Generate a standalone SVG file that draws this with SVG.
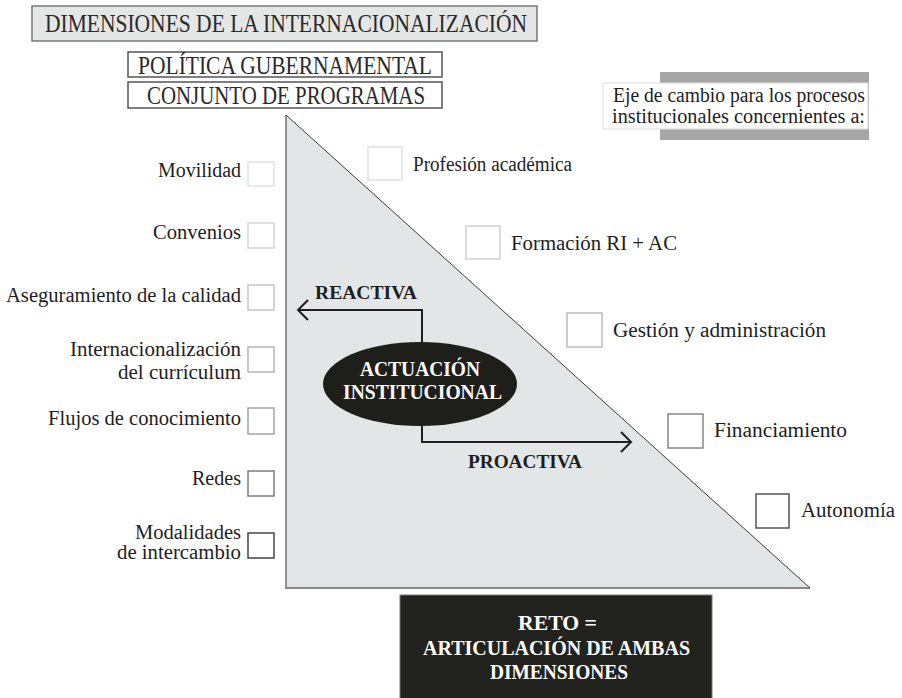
<svg xmlns="http://www.w3.org/2000/svg" width="902" height="698" viewBox="0 0 902 698">
<style>
  text { font-family: "Liberation Serif", "DejaVu Serif", serif; fill: #1e1e1e; }
  .lbl { font-size: 20px; }
  .hdr { font-size: 26px; fill: #2a2a2a; }
  .sub { font-size: 25px; fill: #2a2a2a; }
  .bold { font-size: 19px; font-weight: bold; }
  .wb { font-size: 20px; font-weight: bold; fill: #ffffff; }
  .box { fill: #ffffff; stroke-width: 1.5; }
  .conn { fill: none; stroke: #1e1e1e; stroke-width: 2; }
</style>
<rect width="902" height="698" fill="#ffffff"/>

<g id="title">
  <rect x="32" y="6" width="505" height="35" fill="#e5e7e7" stroke="#777777" stroke-width="1.5"/>
  <text class="hdr" x="45" y="32" textLength="482" lengthAdjust="spacingAndGlyphs">DIMENSIONES DE LA INTERNACIONALIZACIÓN</text>
</g>
<g id="politica">
  <rect x="128" y="52" width="314" height="25" fill="#ffffff" stroke="#555555" stroke-width="1.5"/>
  <text class="sub" x="138" y="74" textLength="294" lengthAdjust="spacingAndGlyphs">POLÍTICA GUBERNAMENTAL</text>
</g>
<g id="conjunto">
  <rect x="128" y="82" width="314" height="26" fill="#ffffff" stroke="#555555" stroke-width="1.5"/>
  <text class="sub" x="147" y="104" textLength="278" lengthAdjust="spacingAndGlyphs">CONJUNTO DE PROGRAMAS</text>
</g>

<g id="eje">
  <rect x="660" y="72" width="209" height="68" fill="#a6a6a6"/>
  <rect x="603" y="83" width="265" height="46" fill="#ffffff" stroke="#dddddd" stroke-width="1"/>
  <text class="lbl" x="613" y="102" textLength="252" lengthAdjust="spacingAndGlyphs">Eje de cambio para los procesos</text>
  <text class="lbl" x="612" y="123" textLength="253" lengthAdjust="spacingAndGlyphs">institucionales concernientes a:</text>
</g>

<g id="triangle">
  <polygon points="286,115 286,588 810,588" fill="#e3e6e6" stroke="none"/>
  <polyline points="286,115 286,588 810,588" fill="none" stroke="#888888" stroke-width="1.8"/>
  <line x1="286" y1="115" x2="810" y2="588" stroke="#3a3a3a" stroke-width="1"/>
</g>

<g id="left-items">
  <g id="movilidad">
    <rect class="box" x="248" y="162" width="26" height="24" stroke="#e2e2e2"/>
    <text class="lbl" x="158" y="177" textLength="83" lengthAdjust="spacingAndGlyphs">Movilidad</text>
  </g>
  <g id="convenios">
    <rect class="box" x="248" y="223" width="26" height="25" stroke="#d6d6d6"/>
    <text class="lbl" x="153" y="239" textLength="88" lengthAdjust="spacingAndGlyphs">Convenios</text>
  </g>
  <g id="aseguramiento">
    <rect class="box" x="248" y="285" width="26" height="25" stroke="#c6c6c6"/>
    <text class="lbl" x="6" y="302" textLength="235" lengthAdjust="spacingAndGlyphs">Aseguramiento de la calidad</text>
  </g>
  <g id="curriculum">
    <rect class="box" x="248" y="347" width="26" height="25" stroke="#b6b6b6"/>
    <text class="lbl" x="70" y="356" textLength="171" lengthAdjust="spacingAndGlyphs">Internacionalización</text>
    <text class="lbl" x="118" y="379" textLength="123" lengthAdjust="spacingAndGlyphs">del currículum</text>
  </g>
  <g id="flujos">
    <rect class="box" x="248" y="408" width="26" height="26" stroke="#a4a4a4"/>
    <text class="lbl" x="48" y="425" textLength="193" lengthAdjust="spacingAndGlyphs">Flujos de conocimiento</text>
  </g>
  <g id="redes">
    <rect class="box" x="248" y="471" width="26" height="25" stroke="#7e7e7e"/>
    <text class="lbl" x="192" y="485" textLength="49" lengthAdjust="spacingAndGlyphs">Redes</text>
  </g>
  <g id="modalidades">
    <rect class="box" x="248" y="533" width="26" height="25" stroke="#444444"/>
    <text class="lbl" x="135" y="539" textLength="106" lengthAdjust="spacingAndGlyphs">Modalidades</text>
    <text class="lbl" x="117" y="559" textLength="124" lengthAdjust="spacingAndGlyphs">de intercambio</text>
  </g>
</g>

<g id="right-items">
  <g id="profesion">
    <rect class="box" x="368" y="147" width="34" height="33" stroke="#e0e0e0"/>
    <text class="lbl" x="413" y="171" textLength="159" lengthAdjust="spacingAndGlyphs">Profesión académica</text>
  </g>
  <g id="formacion">
    <rect class="box" x="466" y="226" width="34" height="33" stroke="#d0d0d0"/>
    <text class="lbl" x="511" y="250" textLength="166" lengthAdjust="spacingAndGlyphs">Formación RI + AC</text>
  </g>
  <g id="gestion">
    <rect class="box" x="567" y="313" width="35" height="34" stroke="#bcbcbc"/>
    <text class="lbl" x="613" y="337" textLength="213" lengthAdjust="spacingAndGlyphs">Gestión y administración</text>
  </g>
  <g id="financiamiento">
    <rect class="box" x="668" y="414" width="35" height="34" stroke="#888888"/>
    <text class="lbl" x="714" y="437" textLength="133" lengthAdjust="spacingAndGlyphs">Financiamiento</text>
  </g>
  <g id="autonomia">
    <rect class="box" x="756" y="494" width="33" height="34" stroke="#555555"/>
    <text class="lbl" x="801" y="517" textLength="94" lengthAdjust="spacingAndGlyphs">Autonomía</text>
  </g>
</g>

<g id="connectors">
  <polyline class="conn" points="422,343 422,310 298,310"/>
  <polyline class="conn" points="308,300 298,310 308,320"/>
  <polyline class="conn" points="422,426 422,442 631,442"/>
  <polyline class="conn" points="621,432 631,442 621,452"/>
</g>

<g id="reactiva">
  <text class="bold" x="315" y="299" textLength="102" lengthAdjust="spacingAndGlyphs">REACTIVA</text>
</g>
<g id="proactiva">
  <text class="bold" x="468" y="468" textLength="114" lengthAdjust="spacingAndGlyphs">PROACTIVA</text>
</g>

<g id="actuacion">
  <ellipse cx="420" cy="384" rx="97" ry="42" fill="#1e1e1b"/>
  <text class="wb" x="360" y="376" textLength="120" lengthAdjust="spacingAndGlyphs">ACTUACIÓN</text>
  <text class="wb" x="343" y="399" textLength="159" lengthAdjust="spacingAndGlyphs">INSTITUCIONAL</text>
</g>

<g id="reto">
  <rect x="400" y="595" width="312" height="110" fill="#22231f" stroke="#777777" stroke-width="1"/>
  <text class="wb" x="518" y="630" textLength="79" lengthAdjust="spacingAndGlyphs">RETO =</text>
  <text class="wb" x="423" y="655" textLength="267" lengthAdjust="spacingAndGlyphs">ARTICULACIÓN DE AMBAS</text>
  <text class="wb" x="490" y="679" textLength="138" lengthAdjust="spacingAndGlyphs">DIMENSIONES</text>
</g>
</svg>
